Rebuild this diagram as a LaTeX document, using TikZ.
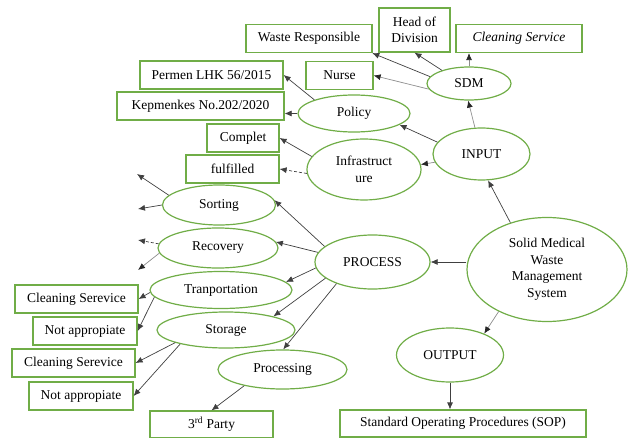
\documentclass[tikz,border=0pt]{standalone}
\usepackage{fontspec}
\setmainfont{Liberation Serif}
\usepackage{tikz}
\usetikzlibrary{shapes.geometric, arrows.meta}
\definecolor{leaf}{RGB}{112,173,71}
\tikzset{
    box/.style = {draw=leaf, line width=1.2pt, inner sep=1pt, align=center, minimum height=28pt},
    oval/.style = {ellipse, draw=leaf, line width=1.2pt, inner sep=0pt, align=center},
    arr/.style = {-{Latex[length=7pt,width=6pt]}, line width=0.7pt, draw=black!75},
    lightarr/.style = {-{Latex[length=7pt,width=6pt,color=black!85]}, line width=0.7pt, draw=black!45},
    shortdash/.style = {dash pattern=on 3pt off 2pt}
}

\begin{document}
\begin{tikzpicture}[x=1pt, y=-1pt, font=\fontsize{13.5}{16.5}\selectfont]
    \useasboundingbox (0,0) rectangle (628,438);

    % ovals
    \node [oval, minimum width=160pt, minimum height=104pt] (smwms) at (547,269.5){Solid Medical\\Waste\\Management\\System};
    \node [oval, minimum width=115pt, minimum height=54pt] (process) at (372.5,262){PROCESS};
    \node [oval, minimum width=97pt, minimum height=52pt] (input) at (481.5,154){INPUT};
    \node [oval, minimum width=107pt, minimum height=54pt] (output) at (450,355){OUTPUT};
    \node [oval, minimum width=84pt, minimum height=33pt] (sdm) at (469,83.5){SDM};
    \node [oval, minimum width=112pt, minimum height=37pt] (policy) at (354,113.5){Policy};
    \node [oval, minimum width=114pt, minimum height=61pt] (infra) at (364,169.5){Infrastruct\\ure};
    \node [oval, minimum width=113pt, minimum height=40pt] (sorting) at (219,205){Sorting};
    \node [oval, minimum width=120pt, minimum height=40pt] (recovery) at (218,248){Recovery};
    \node [oval, minimum width=142pt, minimum height=37pt] (transport) at (221,290){Tranportation};
    \node [oval, minimum width=138pt, minimum height=36pt] (storage) at (226,330){Storage};
    \node [oval, minimum width=129pt, minimum height=39pt] (processing) at (282.5,369.5){Processing};

    % boxes
    \node [box, minimum width=126pt] (wresp) at (309,38.5){Waste Responsible};
    \node [box, minimum width=71pt, minimum height=44pt] (head) at (414.5,30){Head of\\Division};
    \node [box, minimum width=126pt] (clean) at (519,38.5){\textit{Cleaning Service}};
    \node [box, minimum width=67pt] (nurse) at (339.5,75.5){Nurse};
    \node [box, minimum width=143pt] (permen) at (211.5,75){Permen LHK 56/2015};
    \node [box, minimum width=167pt] (kepmen) at (200.5,106){Kepmenkes No.202/2020};
    \node [box, minimum width=72pt] (complet) at (243,138){Complet};
    \node [box, minimum width=93pt] (fulfil) at (232.5,169){fulfilled};
    \node [box, minimum width=123pt] (cleanA) at (76.5,299){Cleaning Serevice};
    \node [box, minimum width=104pt] (notA) at (85,331){Not appropiate};
    \node [box, minimum width=123pt] (cleanB) at (73.5,363){Cleaning Serevice};
    \node [box, minimum width=104pt] (notB) at (81,396){Not appropiate};
    \node [box, minimum width=123pt, minimum height=27pt] (party) at (211.5,424.5){3\textsuperscript{rd} Party};
    \node [box, minimum width=246pt, minimum height=27pt] (sop) at (463,423.5){Standard Operating Procedures (SOP)};

    \coordinate (sortA) at (137,174);
    \coordinate (sortB) at (138,209);
    \coordinate (recA) at (138,240);
    \coordinate (recB) at (138,270);

    % arrows
    \draw [arr] (smwms.128) -- (input.-76);
    \draw [arr] (process.east -| smwms.west) -- (process.east);
    \draw [lightarr] (smwms.-139) -- (output.32);
    \draw [arr] (output.south) -- (output.south |- sop.north);

    \draw [lightarr] (input.104) -- (sdm.-93);
    \draw [arr] (input.165) -- (policy.-14);
    \draw [lightarr] (input.-170) -- (infra.5);

    \draw [arr] (sdm.170) -- (wresp.-13);
    \draw [arr] (sdm.154) -- (head.south);
    \draw [lightarr] (sdm.north) -- (sdm.north |- clean.south);
    \draw [lightarr] (sdm.-172) -- (nurse.east);

    \draw [arr] (policy.161) -- (permen.east);
    \draw [arr] (policy.west) -- (policy.west -| kepmen.east);
    \draw [arr] (infra.166) -- (complet.east);
    \draw [arr, shortdash] (infra.-176) -- (fulfil.east);

    \draw [arr] (process.162) -- (sorting.5);
    \draw [arr] (process.170) -- (recovery.6);
    \draw [arr] (process.-174) -- (transport.7);
    \draw [arr] (process.-161) -- (storage.16);
    \draw [arr] (process.-149) -- (processing.88);

    \draw [arr] (sorting.169) -- (sortA);
    \draw [arr] (sorting.west) -- (sortB);
    \draw [arr, shortdash] (recovery.176) -- (recA);
    \draw [lightarr] (recovery.-175) -- (recB);
    \draw [arr] (transport.-178) -- (cleanA.east);
    \draw [arr] (transport.-174) -- (notA.east);
    \draw [arr] (storage.-166) -- (cleanB.east);
    \draw [arr] (storage.-163) -- (notB.east);
    \draw [arr] (processing.-157) -- (party.north);
\end{tikzpicture}
\end{document}
